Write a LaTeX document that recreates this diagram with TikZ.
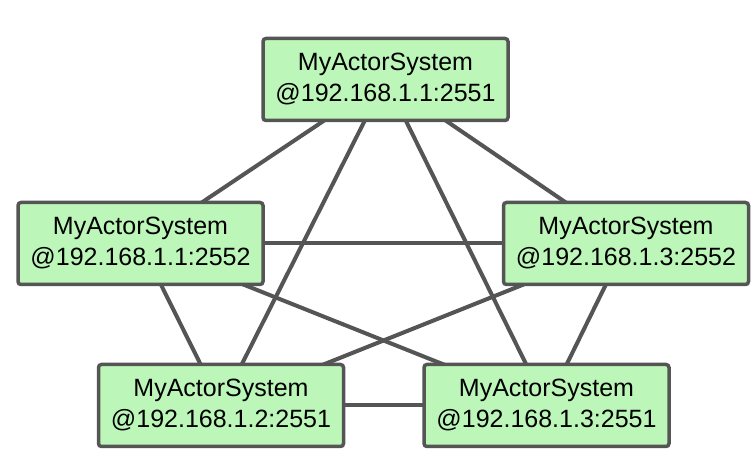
\documentclass[tikz,border=0pt]{standalone}
\usepackage{fontspec}
\setmainfont{Liberation Sans}
\usetikzlibrary{backgrounds}
\definecolor{boxfill}{RGB}{188,247,185}
\definecolor{edgegray}{RGB}{85,85,85}
\begin{document}
\begin{tikzpicture}[x=1pt,y=-1pt,
  sysbox/.style={draw=edgegray,fill=boxfill,line width=3.5pt,rounded corners=3pt,
    minimum width=245pt,minimum height=82pt,align=center,inner sep=0pt,
    font=\fontsize{25}{31}\selectfont},
  link/.style={draw=edgegray,line width=4pt}]
\useasboundingbox (0,0) rectangle (756,462);
\node[sysbox] (top) at (385.5,79.5) {MyActorSystem\\@192.168.1.1:2551};
\node[sysbox] (lm) at (140.5,243.5) {MyActorSystem\\@192.168.1.1:2552};
\node[sysbox] (rm) at (626,243.5) {MyActorSystem\\@192.168.1.3:2552};
\node[sysbox] (bl) at (221,405.5) {MyActorSystem\\@192.168.1.2:2551};
\node[sysbox] (br) at (546.5,405.5) {MyActorSystem\\@192.168.1.3:2551};
\begin{scope}[on background layer]
\fill[white] (0,0) rectangle (756,462);
\draw[link] (top.center) -- (lm.center);
\draw[link] (top.center) -- (rm.center);
\draw[link] (top.center) -- (bl.center);
\draw[link] (top.center) -- (br.center);
\draw[link] (lm.center) -- (rm.center);
\draw[link] (lm.center) -- (bl.center);
\draw[link] (lm.center) -- (br.center);
\draw[link] (rm.center) -- (bl.center);
\draw[link] (rm.center) -- (br.center);
\draw[link] (bl.center) -- (br.center);
\end{scope}
\end{tikzpicture}
\end{document}
